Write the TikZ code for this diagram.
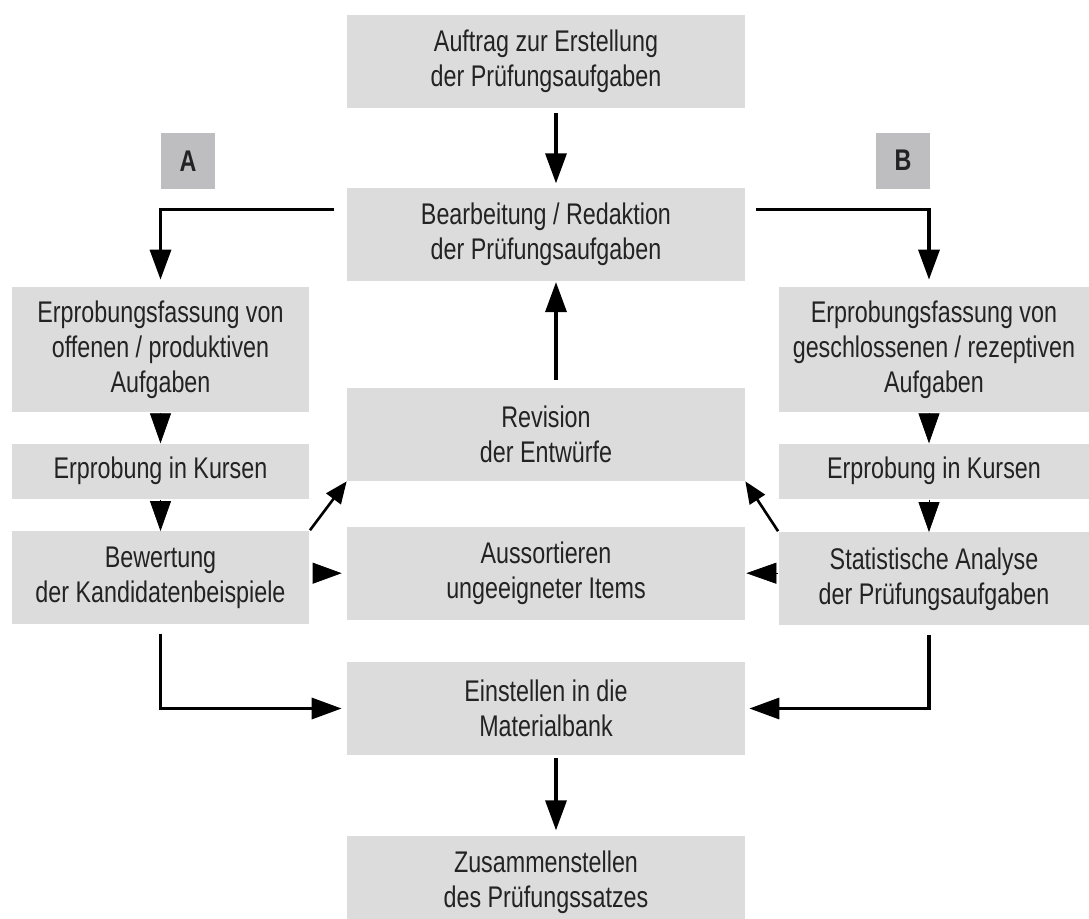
\documentclass[tikz,border=0pt]{standalone}
\usepackage{fontspec}
\setmainfont[FakeStretch=0.78]{Liberation Sans}
\usepackage{tikz}
\usetikzlibrary{positioning,arrows.meta}

\definecolor{boxgrey}{RGB}{220,220,220}
\definecolor{taggrey}{RGB}{190,190,193}
\definecolor{textgrey}{RGB}{35,35,35}

\tikzset{
  box/.style={fill=boxgrey, text=textgrey, align=center, inner sep=0pt,
    minimum height=1.86cm, font=\fontsize{17}{20}\selectfont},
  midbox/.style={box, minimum width=7.96cm},
  sidebox/.style={box, minimum width=5.94cm},
  rightbox/.style={box, minimum width=6.2cm},
  tagbox/.style={fill=taggrey, text=textgrey, minimum width=1.08cm,
    minimum height=1.12cm, font=\fontsize{17}{20}\selectfont\bfseries},
  flow/.style={line width=1.9pt, -{Triangle[length=0.6cm,width=0.42cm]}},
  tri/.style={-{Triangle[length=0.6cm,width=0.42cm]}, shorten <=0.01cm},
  diag/.style={line width=1.5pt, -{Triangle[length=0.44cm,width=0.36cm]}}
}

\begin{document}
\begin{tikzpicture}
	\useasboundingbox (0,0) rectangle (21.78,-18.38);
	% middle column
	\node[midbox] (auftrag) at (10.92,-1.23) {Auftrag zur Erstellung\\der Prüfungsaufgaben};
	\node[midbox, below=1.58cm of auftrag] (bearb) {Bearbeitung / Redaktion\\der Prüfungsaufgaben};
	\node[midbox] (revis) at (10.92,-8.69) {Revision\\der Entwürfe};
	\node[midbox, below=0.9cm of revis] (aussort) {Aussortieren\\ungeeigneter Items};
	\node[midbox] (einst) at (10.92,-14.17) {Einstellen in die\\Materialbank};
	\node[midbox, below=1.6cm of einst] (zus) {Zusammenstellen\\des Prüfungssatzes};
	% path A
	\node[tagbox] (tagA) at (3.76,-3.22) {A};
	\node[sidebox, minimum height=2.5cm] (offenL) at (3.21,-6.99) {Erprobungsfassung von\\offenen / produktiven\\Aufgaben};
	\node[sidebox, minimum height=1.1cm, below=0.62cm of offenL] (kursL) {Erprobung in Kursen};
	\node[sidebox, below=0.64cm of kursL] (bewert) {Bewertung\\der Kandidatenbeispiele};
	% path B
	\node[tagbox] (tagB) at (18.06,-3.21) {B};
	\node[rightbox, minimum height=2.5cm] (offenR) at (18.68,-6.99) {Erprobungsfassung von\\geschlossenen / rezeptiven\\Aufgaben};
	\node[rightbox, minimum height=1.1cm, below=0.62cm of offenR] (kursR) {Erprobung in Kursen};
	\node[rightbox, below=0.66cm of kursR] (stat) {Statistische Analyse\\der Prüfungsaufgaben};

	\draw[flow, shorten <=0.1cm, shorten >=0.08cm] ([xshift=0.2cm]auftrag.south) -- ([xshift=0.2cm]bearb.north);
	\draw[flow, shorten >=0.14cm] ([shift={(-0.26cm,0.49cm)}]bearb.west) -| (offenL.north);
	\draw[flow, shorten >=0.14cm] ([shift={(0.22cm,0.49cm)}]bearb.east) -| ([xshift=-0.1cm]offenR.north);
	\draw[tri] (offenL) -- (kursL);
	\draw[tri] (kursL) -- (bewert);
	\draw[tri] ([xshift=-0.1cm]offenR.south) -- ([xshift=-0.1cm]kursR.north);
	\draw[tri] ([xshift=-0.1cm]kursR.south) -- ([xshift=-0.1cm]stat.north);
	\draw[diag, shorten <=0.02cm] (bewert.north east) -- (revis.south west);
	\draw[diag, shorten <=0.02cm] (stat.north west) -- (revis.south east);
	\draw[-{Triangle[length=0.58cm,width=0.42cm]}, shorten <=0.08cm, shorten >=0.1cm] (bewert.east |- aussort) -- (aussort.west);
	\draw[-{Triangle[length=0.6cm,width=0.42cm]}, shorten <=0.02cm, shorten >=0.02cm] (stat.west |- aussort) -- (aussort.east);
	\draw[flow, shorten <=0.16cm, shorten >=0.02cm] ([xshift=0.2cm]revis.north) -- ([xshift=0.2cm]bearb.south);
	\draw[flow, shorten <=0.18cm, shorten >=0.1cm] (bewert.south) |- (einst.west);
	\draw[flow, shorten <=0.18cm, shorten >=0.08cm] ([xshift=-0.1cm]stat.south) |- (einst.east);
	\draw[flow, shorten <=0.06cm, shorten >=0.1cm] ([xshift=0.2cm]einst.south) -- ([xshift=0.2cm]zus.north);
\end{tikzpicture}
\end{document}
